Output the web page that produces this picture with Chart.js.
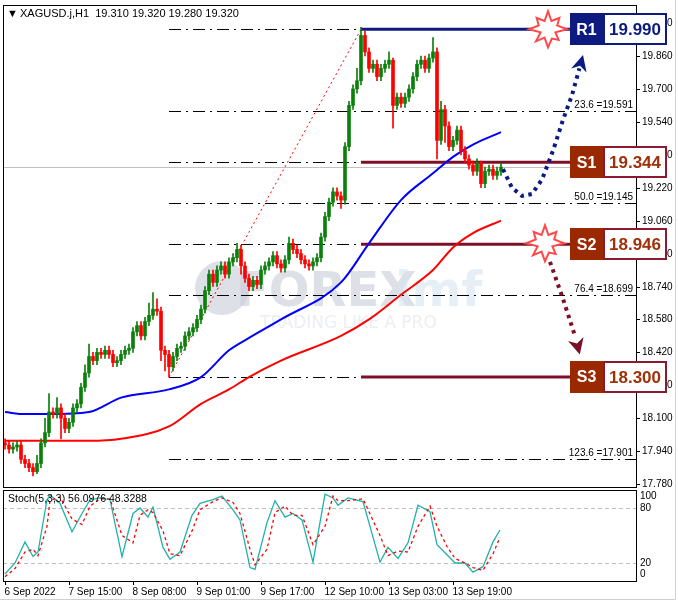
<!DOCTYPE html>
<html><head><meta charset="utf-8">
<script src="https://cdn.jsdelivr.net/npm/chart.js@4.4.1/dist/chart.umd.min.js"></script>
<style>html,body{margin:0;padding:0;background:#fff}#wrap{width:678px;height:603px}</style>
</head><body><div id="wrap"><canvas id="c" width="678" height="603"></canvas></div>
<script>
// ---- data ----
const title = "XAGUSD.j,H1  19.310 19.320 19.280 19.320";
const timeLabels = ["6 Sep 2022","7 Sep 15:00","8 Sep 08:00","9 Sep 01:00","9 Sep 17:00","12 Sep 10:00","13 Sep 03:00","13 Sep 19:00"];
const timeLabelIdx = [0,16,32,48,64,80,96,112];
const closes = [17.97,17.95,17.96,17.97,17.90,17.88,17.86,17.84,17.88,17.98,
18.03,18.13,18.12,18.15,18.10,18.05,18.08,18.15,18.17,18.25,
18.32,18.40,18.38,18.42,18.41,18.43,18.41,18.37,18.38,18.41,
18.43,18.44,18.52,18.55,18.50,18.57,18.60,18.63,18.62,18.43,
18.41,18.35,18.40,18.44,18.45,18.50,18.52,18.54,18.58,18.63,
18.72,18.80,18.76,18.82,18.84,18.80,18.86,18.88,18.92,18.84,
18.78,18.74,18.77,18.75,18.82,18.84,18.86,18.89,18.85,18.83,
18.87,18.95,18.92,18.90,18.87,18.85,18.84,18.86,18.88,18.98,
19.08,19.15,19.20,19.18,19.16,19.42,19.62,19.70,19.74,19.96,
19.88,19.80,19.82,19.76,19.80,19.82,19.84,19.62,19.66,19.63,
19.66,19.70,19.76,19.82,19.84,19.80,19.85,19.88,19.45,19.60,
19.52,19.42,19.45,19.50,19.40,19.36,19.33,19.30,19.34,19.24,
19.30,19.31,19.28,19.30,19.32];
const firstOpen = 17.98;
const highs = {8:17.92,10:18.10,11:18.22,13:18.20,20:18.36,21:18.46,36:18.66,37:18.71,38:18.68,39:18.64,
  58:18.95,71:18.98,85:19.44,88:19.80,89:20.00,90:19.98,96:19.88,97:19.85,107:19.95,108:19.90,109:19.64,110:19.62,116:19.38,119:19.35,124:19.34};
const lows = {7:17.82,8:17.83,14:18.00,39:18.38,40:18.33,41:18.30,59:18.80,62:18.72,84:19.12,89:19.72,97:19.51,108:19.36,110:19.44,119:19.22};
const maIdx  = [0,5,11,21,29,41,49,56,61,69,84,91,99,107,112,117,124];
const maBlue = [18.13,18.12,18.12,18.13,18.20,18.24,18.30,18.43,18.49,18.58,18.76,18.95,19.16,19.29,19.37,19.43,19.49];
const maRed  = [17.99,17.99,17.99,17.99,18.00,18.06,18.17,18.24,18.30,18.38,18.50,18.58,18.70,18.82,18.93,19.00,19.06];
const stochIdx = [0,2.5,5,7,8.25,10.5,11.25,13.75,16.75,19.25,21.25,23.75,26.25,29.25,32,33.75,35.75,37,39.5,41.25,43.75,46.75,48.75,52,54.25,57,58.75,61.25,62.5,65.5,67.5,70,72,74.25,77,80,82,83.25,85.75,89.5,93.75,95.75,98.25,100.75,103.25,106.25,108,110.5,112.5,115,117,119.5,122,123.75];
const stochK = [8,20,43,27,32,89,94,85,54,74,89,91,89,27,74,80,70,81,37,24,32,72,85,89,93,78,67,15,13,64,88,70,74,67,21,95,91,83,91,87,21,37,25,42,83,76,40,29,20,20,10,16,43,56];
const stochD = [5,14,32,35,28,60,88,92,68,62,82,90,90,50,42,72,78,75,55,30,28,55,78,87,91,86,74,35,18,35,75,82,72,72,40,60,93,88,88,90,50,28,33,32,60,82,60,38,25,20,15,12,30,48];
const priceTicks = [17.78,17.94,18.10,18.26,18.42,18.58,18.74,18.90,19.06,19.22,19.38,19.54,19.70,19.86,20.02];
const stochTicks = [100,80,20,0];
const stochLevels = [80,20];
const fibStartIdx = 41, fibEndIdx = 89;
const fibLevels = [{p:19.990},{p:19.591,t:"23.6 =19.591"},{p:19.344},{p:19.145,t:"50.0 =19.145"},{p:18.946},{p:18.699,t:"76.4 =18.699"},{p:18.300},{p:17.901,t:"123.6 =17.901"}];
const levels = [{n:"R1",p:19.990,kind:"r"},{n:"S1",p:19.344,kind:"s"},{n:"S2",p:18.946,kind:"s"},{n:"S3",p:18.300,kind:"s"}];
const levelStartIdx = 89, boxIdx = 141.25;
const bursts = [[135.75,19.99],[135,18.95]];
const upPath = [[124.5,19.31],[126.75,19.22],[129.25,19.18],[131.75,19.19],[134.25,19.26],[137,19.40],[139.5,19.55],[141.75,19.67],[143.6,19.80]];
const upTip = [144.5,19.865];
const dnPath = [[136.25,18.86],[139.5,18.68],[142.5,18.50]];
const dnTip = [143.7,18.41];
const lastPrice = 19.32;

// ---- build candles ----
const body=[], wick=[], bodyCol=[];
closes.forEach((c,i)=>{
  const o = i===0?firstOpen:closes[i-1];
  const h = highs[i]!==undefined?highs[i]:Math.max(o,c)+0.02;
  const l = lows[i]!==undefined?lows[i]:Math.min(o,c)-0.02;
  const col = c>o?'#0a800a':(c<o?'#ff0000':'#000');
  body.push({x:i,y:[o,c]}); wick.push({x:i,y:[l,h]}); bodyCol.push(col);
});
const PRICE_TOP=20.108, PRICE_BOT=17.309;
const ST_TOP=628.5, ST_BOT=0.37;
const F='"Liberation Sans", Arial, sans-serif';

const deco = {
  id:'deco',
  beforeDatasetsDraw(ch){
    const c=ch.ctx, a=ch.chartArea, x=ch.scales.x, y=ch.scales.y, y2=ch.scales.y2;
    const py=p=>y.getPixelForValue(p), px=i=>x.getPixelForValue(i);
    c.save();
    c.globalAlpha=0.6;
    c.beginPath(); c.arc(222,288,27,0,Math.PI*2); c.fillStyle='#c8ccd8'; c.fill();
    c.fillStyle='#c8ccd8'; c.font='bold 48px "DejaVu Sans"'; c.fillText('FOREX',236,306);
    c.fillStyle='#d6e4f0'; c.fillText('imf',395,306);
    c.fillStyle='#dfe2ea'; c.font='17px "DejaVu Sans"'; c.fillText('TRADING LIKE A PRO',260,328);
    c.globalAlpha=1;
    c.strokeStyle='#c0c0c0'; c.lineWidth=1; c.beginPath(); c.moveTo(a.left,Math.round(py(lastPrice))+.5); c.lineTo(a.right,Math.round(py(lastPrice))+.5); c.stroke();
    c.strokeStyle='#000'; c.setLineDash([12,5,2,5]);
    fibLevels.forEach(f=>{const yy=Math.round(py(f.p))+.5; c.beginPath(); c.moveTo(px(fibStartIdx),yy); c.lineTo(a.right,yy); c.stroke();});
    c.setLineDash([]);
    c.font='10px '+F; c.fillStyle='#000'; c.textAlign='right'; c.textBaseline='bottom';
    fibLevels.forEach(f=>{if(f.t) c.fillText(f.t,a.right-3,py(f.p)-1);});
    c.strokeStyle='#ff0000'; c.setLineDash([2,3]); c.beginPath(); c.moveTo(px(fibStartIdx),py(18.30)); c.lineTo(px(fibEndIdx),py(19.99)); c.stroke(); c.setLineDash([]);
    c.strokeStyle='#c0c0c0'; c.setLineDash([4,3]);
    stochLevels.forEach(v=>{const yy=Math.round(y2.getPixelForValue(v))+.5; c.beginPath(); c.moveTo(a.left,yy); c.lineTo(a.right,yy); c.stroke();});
    c.setLineDash([]);
    levels.forEach(L=>{c.strokeStyle=L.kind==='r'?'#0d1a80':'#7c1028'; c.lineWidth=3; const yy=py(L.p); c.beginPath(); c.moveTo(px(levelStartIdx),yy); c.lineTo(px(boxIdx),yy); c.stroke();});
    c.restore();
  },
  afterDatasetsDraw(ch){
    const c=ch.ctx, a=ch.chartArea, x=ch.scales.x, y=ch.scales.y, y2=ch.scales.y2;
    const py=p=>y.getPixelForValue(p), px=i=>x.getPixelForValue(i);
    const pBot=487, sTop=490;
    c.save();
    c.fillStyle='#fff'; c.fillRect(a.left-2,pBot+1,a.right-a.left+4,sTop-pBot-1);
    c.fillRect(a.right+1,a.top,678-a.right,a.bottom-a.top+2);
    c.strokeStyle='#000'; c.lineWidth=1;
    c.strokeRect(a.left+.5,a.top+.5,a.right-a.left,pBot-a.top);
    c.strokeRect(a.left+.5,sTop+.5,a.right-a.left,a.bottom-sTop);
    c.strokeStyle='#d0d0d0'; c.beginPath(); c.moveTo(675.5,0); c.lineTo(675.5,599.5); c.lineTo(0,599.5); c.stroke();
    c.strokeStyle='#000';
    c.fillStyle='#000'; c.font='10px '+F; c.textAlign='left'; c.textBaseline='middle';
    priceTicks.forEach(p=>{const yy=Math.round(py(p))+.5; if(yy<a.top||yy>pBot) return; c.beginPath(); c.moveTo(a.right,yy); c.lineTo(a.right+4,yy); c.stroke(); c.fillText(p.toFixed(3),a.right+6,yy);});
    stochTicks.forEach(v=>{const yy=y2.getPixelForValue(v); c.fillText(String(v),a.right+4,Math.min(Math.max(yy,sTop+6),a.bottom-7));});
    c.fillStyle='#000'; c.fillRect(a.right,py(lastPrice)-5,9,10);
    c.textAlign='left'; c.textBaseline='alphabetic';
    timeLabelIdx.forEach((i,k)=>{const xx=Math.round(px(i))+.5; c.beginPath(); c.moveTo(xx,a.bottom); c.lineTo(xx,a.bottom+4); c.stroke(); c.fillText(timeLabels[k],xx-1,a.bottom+14);});
    c.font='11px '+F; c.fillText('\u25BC',7,17); c.fillText(title,20,17);
    c.font='10.5px '+F; c.fillText('Stoch(5,3,3) 56.0976 48.3288',8,sTop+12);
    function dotted(pts,tip,col){
      c.strokeStyle=col; c.fillStyle=col; c.lineWidth=4; c.setLineDash([3.5,4.5]);
      c.beginPath(); c.moveTo(px(pts[0][0]),py(pts[0][1]));
      for(let k=1;k<pts.length;k++){const [ix,ip]=pts[k]; c.lineTo(px(ix),py(ip));}
      c.stroke(); c.setLineDash([]);
      const [lx,ly]=[px(pts[pts.length-1][0]),py(pts[pts.length-1][1])], tx=px(tip[0]), ty=py(tip[1]);
      const ang=Math.atan2(ty-ly,tx-lx), L=16,W=8;
      c.beginPath(); c.moveTo(tx,ty);
      c.lineTo(tx-L*Math.cos(ang)+W*Math.sin(ang),ty-L*Math.sin(ang)-W*Math.cos(ang));
      c.lineTo(tx-L*Math.cos(ang)*0.7,ty-L*Math.sin(ang)*0.7);
      c.lineTo(tx-L*Math.cos(ang)-W*Math.sin(ang),ty-L*Math.sin(ang)+W*Math.cos(ang));
      c.closePath(); c.fill();
    }
    dotted(upPath,upTip,'#0d1a80');
    dotted(dnPath,dnTip,'#7c1028');
    bursts.forEach(([bi,bp])=>{const cx=px(bi), cy=py(bp); c.beginPath();
      const R=[18,9,16,10,19,8,15,10,18,9,17,8,19,10,16,9]; for(let k=0;k<R.length;k++){const an=k/R.length*Math.PI*2-Math.PI/2; const r=R[k]; k?c.lineTo(cx+r*Math.cos(an),cy+r*Math.sin(an)):c.moveTo(cx+r*Math.cos(an),cy+r*Math.sin(an));}
      c.closePath(); c.fillStyle='#fff'; c.fill(); c.strokeStyle='#ff4848'; c.lineWidth=2; c.stroke();});
    levels.forEach(L=>{const bx=Math.round(px(boxIdx)), cy=py(L.p), h=32, top=Math.round(cy-h/2);
      const fill=L.kind==='r'?'#0d1a80':'#9a2800', border=L.kind==='r'?'#0d1a80':'#8a1a30', tc=L.kind==='r'?'#0d1a80':'#a0300a';
      c.fillStyle=fill; c.fillRect(bx,top,33,h);
      c.fillStyle='#fff'; c.fillRect(bx+33,top,64,h);
      c.strokeStyle=border; c.lineWidth=2; c.strokeRect(bx+34,top+1,62,h-2);
      c.textAlign='center'; c.textBaseline='middle'; c.font='bold 16px "Liberation Sans", Arial';
      c.fillStyle='#fff'; c.fillText(L.n,bx+16.5,cy+1);
      c.fillStyle=tc; c.font='bold 17px "Liberation Sans", Arial'; c.fillText(L.p.toFixed(3),bx+65,cy+1);
    });
    c.restore();
  }
};

new Chart(document.getElementById('c'),{
  data:{datasets:[
    {type:'line',data:maIdx.map((v,k)=>({x:v,y:maRed[k]})),borderColor:'#ff0000',borderWidth:2,pointRadius:0,cubicInterpolationMode:'monotone',yAxisID:'y',order:3},
    {type:'line',data:maIdx.map((v,k)=>({x:v,y:maBlue[k]})),borderColor:'#0000ff',borderWidth:2,pointRadius:0,cubicInterpolationMode:'monotone',yAxisID:'y',order:3},
    {type:'bar',data:wick,backgroundColor:bodyCol,barThickness:1,grouped:false,yAxisID:'y',order:2},
    {type:'bar',data:body,backgroundColor:bodyCol,barThickness:3,grouped:false,yAxisID:'y',order:1,minBarLength:1},
    {type:'line',data:stochIdx.map((v,k)=>({x:v,y:stochD[k]})),borderColor:'#ff0000',borderWidth:1.3,borderDash:[3,3],pointRadius:0,yAxisID:'y2',order:0},
    {type:'line',data:stochIdx.map((v,k)=>({x:v,y:stochK[k]})),borderColor:'#20b2aa',borderWidth:1.3,pointRadius:0,yAxisID:'y2',order:0}
  ]},
  options:{responsive:false,animation:false,devicePixelRatio:1,
    layout:{padding:{left:3,top:5,right:42,bottom:22}},
    plugins:{legend:{display:false},tooltip:{enabled:false}},
    scales:{
      x:{type:'linear',min:-0.5,max:157.75,offset:false,display:false},
      y:{type:'linear',min:PRICE_BOT,max:PRICE_TOP,display:false},
      y2:{type:'linear',min:ST_BOT,max:ST_TOP,display:false}
    }},
  plugins:[deco]
});
</script></body></html>
